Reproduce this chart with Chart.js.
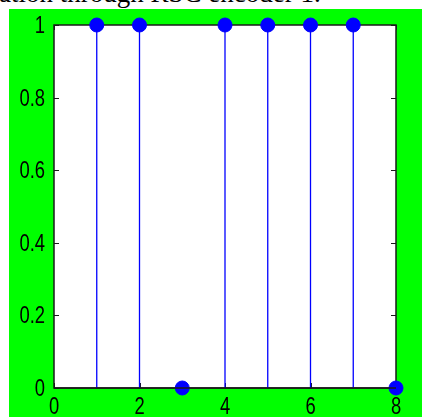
<!DOCTYPE html>
<html>
<head>
<meta charset="utf-8">
<script src="https://cdn.jsdelivr.net/npm/chart.js@4"></script>
<style>
  html, body { margin: 0; padding: 0; background: #fff; }
  #page { position: relative; width: 422px; height: 417px; overflow: hidden; background: #fff; }
  #title {
    position: absolute; left: -1px; top: -22px; white-space: nowrap;
    font-family: "Liberation Serif", "Times New Roman", serif; font-size: 27px; line-height: 30px; color: #000;
  }
  #frame { position: absolute; left: 9px; top: 9px; width: 413px; height: 408px; background: #00ff00; }
  canvas { display: block; }
</style>
</head>
<body>
<div id="page">
  <div id="title">ation through RSC encoder 1.</div>
  <div id="frame"><canvas id="stemChart" width="413" height="408"></canvas></div>
</div>
<script>
// Stem plot data
const sampleIndex = [1, 2, 3, 4, 5, 6, 7, 8];
const bitValues = [1, 1, 0, 1, 1, 1, 1, 0];
const xTicks = [0, 2, 4, 6, 8];
const yTicks = [0, 0.2, 0.4, 0.6, 0.8, 1];

const stemBlue = '#0000ff';
const labelFont = '23px "Liberation Sans", Arial, sans-serif';
const labelSquash = 0.8; // narrow, tall digits like the original
const digitHalf = 8;

// One small line dataset per stem (from 0 up to the value)
const stemSets = sampleIndex.map((x, i) => ({
  type: 'line',
  data: [{ x: x, y: 0 }, { x: x, y: bitValues[i] }],
  borderColor: stemBlue,
  borderWidth: 1.3,
  pointRadius: 0,
  clip: false
}));

/**
 * Box around the plot area with inward ticks and squashed tick labels
 */
const boxPlugin = {
  id: 'box',
  beforeDatasetsDraw(chart) {
    const { ctx, chartArea: a, scales } = chart;
    ctx.save();
    ctx.fillStyle = '#fff';
    ctx.fillRect(a.left, a.top, a.right - a.left, a.bottom - a.top);
    ctx.strokeStyle = '#1a1a1a';
    ctx.lineWidth = 1.5;
    ctx.strokeRect(a.left, a.top, a.right - a.left, a.bottom - a.top);
    ctx.lineWidth = 1;
    ctx.beginPath();
    yTicks.forEach(v => {
      const y = Math.round(scales.y.getPixelForValue(v)) + 0.5;
      ctx.moveTo(a.left, y); ctx.lineTo(a.left + 5, y);
      ctx.moveTo(a.right, y); ctx.lineTo(a.right - 5, y);
    });
    xTicks.forEach(v => {
      const x = Math.round(scales.x.getPixelForValue(v)) + 0.5;
      ctx.moveTo(x, a.bottom); ctx.lineTo(x, a.bottom - 5);
      ctx.moveTo(x, a.top); ctx.lineTo(x, a.top + 5);
    });
    ctx.stroke();
    ctx.restore();
  },
  afterDatasetsDraw(chart) {
    const { ctx, chartArea: a, scales } = chart;
    ctx.save();
    // bottom axis line sits over the markers
    ctx.strokeStyle = '#1a1a1a';
    ctx.lineWidth = 1.5;
    ctx.beginPath();
    ctx.moveTo(a.left, a.bottom); ctx.lineTo(a.right, a.bottom);
    ctx.stroke();

    // tick labels
    ctx.fillStyle = '#000';
    ctx.font = labelFont;
    ctx.textBaseline = 'alphabetic';
    ctx.scale(labelSquash, 1);
    ctx.textAlign = 'right';
    yTicks.forEach(v => {
      const y = scales.y.getPixelForValue(v);
      ctx.fillText(String(v), (a.left - 9) / labelSquash, y + digitHalf);
    });
    ctx.textAlign = 'center';
    xTicks.forEach(v => {
      const x = scales.x.getPixelForValue(v);
      ctx.fillText(String(v), x / labelSquash, a.bottom + 26);
    });
    ctx.restore();
  }
};

new Chart(document.getElementById('stemChart'), {
  type: 'scatter',
  data: {
    datasets: [
      ...stemSets,
      {
        type: 'scatter',
        data: sampleIndex.map((x, i) => ({ x: x, y: bitValues[i] })),
        backgroundColor: stemBlue,
        borderColor: stemBlue,
        pointRadius: 7,
        pointHoverRadius: 7,
        clip: false
      }
    ]
  },
  options: {
    responsive: false,
    animation: false,
    events: [],
    layout: { padding: { top: 16, right: 26, left: 0, bottom: 0 } },
    plugins: { legend: { display: false }, tooltip: { enabled: false } },
    scales: {
      x: {
        type: 'linear', min: 0, max: 8, offset: false,
        grid: { display: false, drawTicks: false },
        border: { display: false },
        afterBuildTicks: axis => { axis.ticks = xTicks.map(v => ({ value: v })); },
        ticks: { display: false },
        afterFit: axis => { axis.height = 29; }
      },
      y: {
        type: 'linear', min: 0, max: 1,
        grid: { display: false, drawTicks: false },
        border: { display: false },
        afterBuildTicks: axis => { axis.ticks = yTicks.map(v => ({ value: v })); },
        ticks: { display: false },
        afterFit: axis => { axis.width = 45; }
      }
    }
  },
  plugins: [boxPlugin]
});
</script>
</body>
</html>
